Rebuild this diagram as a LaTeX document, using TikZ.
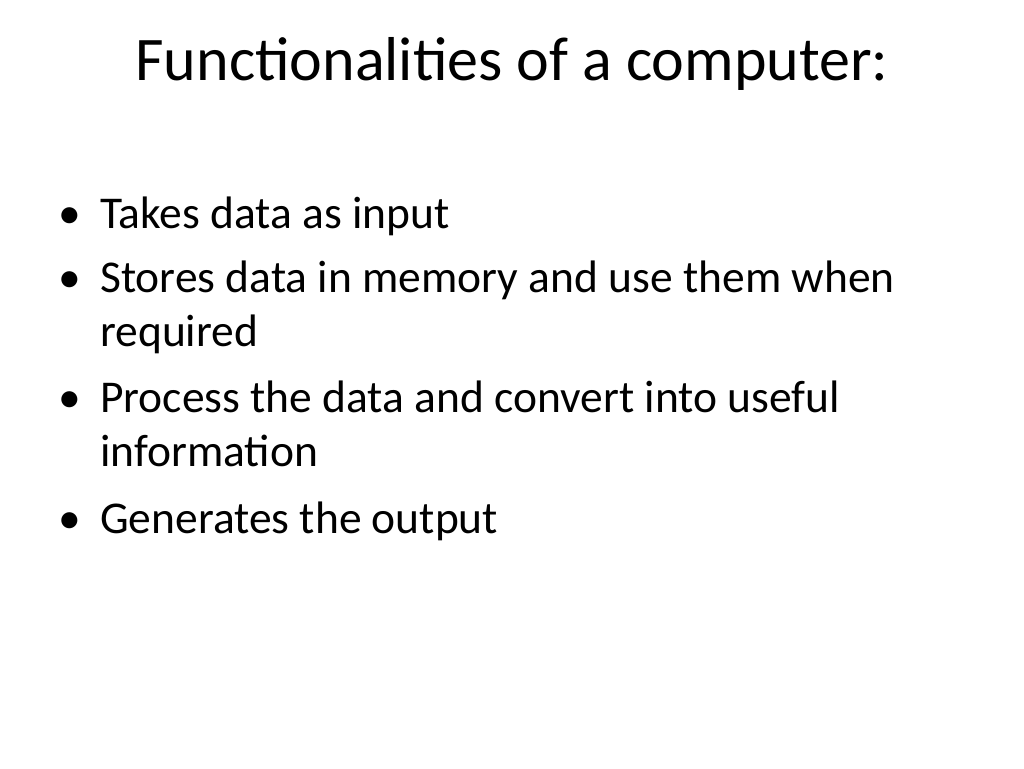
\documentclass[tikz,border=0pt]{standalone}
\usepackage{fontspec}
\setmainfont{Carlito}
\begin{document}
\begin{tikzpicture}[x=1pt,y=-1pt,
  title/.style={font=\fontsize{62}{70}\selectfont,anchor=base,inner sep=0},
  line/.style={font=\fontsize{45.5}{54}\selectfont,anchor=base west,inner sep=0},
  bul/.style={font=\fontsize{45.5}{54}\selectfont,anchor=base west,inner sep=0}]
\useasboundingbox (0,0) rectangle (1024,768);
\node[title] (t) at (512,81) {Functionalities of a computer:};
\node[bul] (b1) at (58,228) {•};
\node[line] (l1) at (100,228) {Takes data as input};
\node[bul] (b2) at (58,292) {•};
\node[line] (l2) at (100,292) {Stores data in memory and use them when};
\node[line] (l2b) at (100,346) {required};
\node[bul] (b3) at (58,412) {•};
\node[line] (l3) at (100,412) {Process the data and convert into useful};
\node[line] (l3b) at (100,466) {information};
\node[bul] (b4) at (58,533) {•};
\node[line] (l4) at (100,533) {Generates the output};
\end{tikzpicture}
\end{document}
